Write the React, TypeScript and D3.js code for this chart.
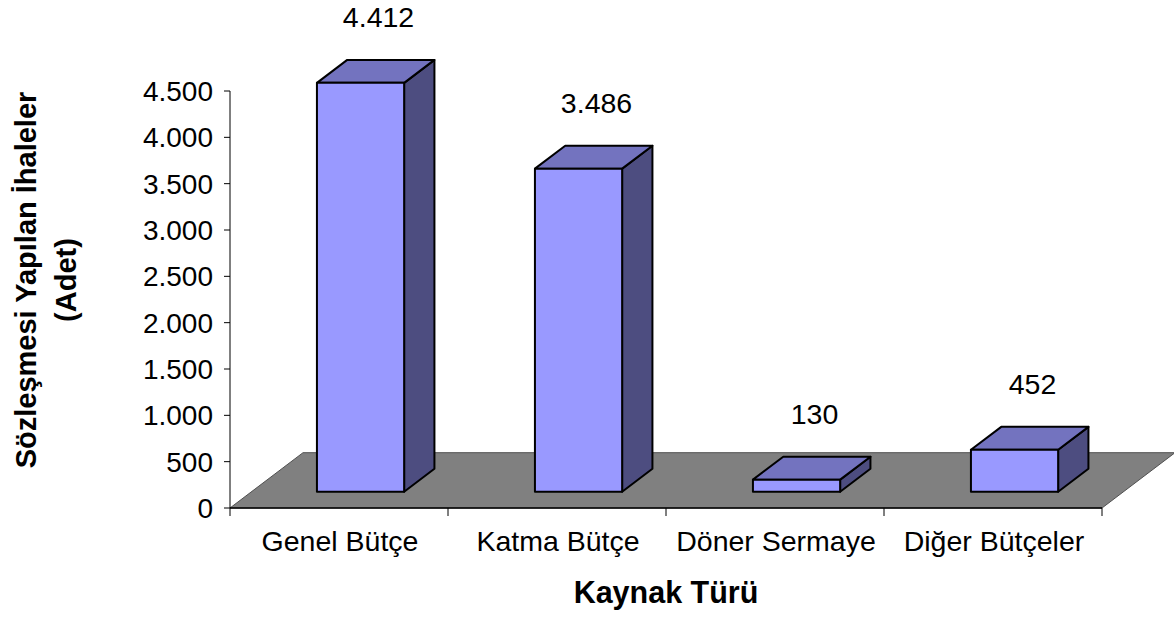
import React from "react";
import * as d3 from "d3";

const categories = ["Genel Bütçe", "Katma Bütçe", "Döner Sermaye", "Diğer Bütçeler"];
const values = [4412, 3486, 130, 452];
const valueLabels = ["4.412", "3.486", "130", "452"];
const yTicks = [0, 500, 1000, 1500, 2000, 2500, 3000, 3500, 4000, 4500];
const yTickLabels = ["0", "500", "1.000", "1.500", "2.000", "2.500", "3.000", "3.500", "4.000", "4.500"];
const yTitleLines = ["Sözleşmesi Yapılan İhaleler", "(Adet)"];
const xTitle = "Kaynak Türü";

const W = 1174;
const H = 621;
const FONT = "'Liberation Sans', Arial, Helvetica, sans-serif";

export default function App() {
  const x0 = 230, x1 = 1102, yBase = 508, yTop = 91;
  const floorD = [73, -55.3];
  const frontDepth = 0.295;
  const barDepth = 0.415;

  const y = d3.scaleLinear().domain([0, 4500]).range([yBase, yTop]);
  const x = d3.scaleBand<string>().domain(categories).range([x0, x1]).paddingInner(0.6).paddingOuter(0.3);
  const step = x.step();

  const fdx = floorD[0] * frontDepth, fdy = floorD[1] * frontDepth;
  const bdx = floorD[0] * barDepth, bdy = floorD[1] * barDepth;

  const floor = [
    [x0, yBase],
    [x1, yBase],
    [x1 + floorD[0], yBase + floorD[1]],
    [x0 + floorD[0], yBase + floorD[1]],
  ];
  const line = d3.line();

  return (
    <svg width={W} height={H} style={{ position: "absolute", left: 0, top: 0, background: "#fff" }} fontFamily={FONT}>
      <path d={line(floor as any) + "Z"} fill="#808080" stroke="#505050" strokeWidth={1} />
      {/* y axis */}
      <line x1={x0} x2={x0} y1={yTop} y2={yBase} stroke="#000" strokeWidth={1} />
      {yTicks.map((t, i) => (
        <g key={t}>
          <line x1={x0 - 6} x2={x0} y1={y(t)} y2={y(t)} stroke="#000" strokeWidth={1} />
          <text x={x0 - 17} y={y(t)} dy="0.36em" textAnchor="end" fontSize={28} fill="#000">
            {yTickLabels[i]}
          </text>
        </g>
      ))}
      {/* x axis */}
      <line x1={x0} x2={x1} y1={yBase} y2={yBase} stroke="#000" strokeWidth={1.5} />
      {d3.range(categories.length + 1).map((i) => (
        <line key={i} x1={x0 + i * step} x2={x0 + i * step} y1={yBase} y2={yBase + 8} stroke="#000" strokeWidth={1} />
      ))}
      {categories.map((c) => (
        <text key={c} x={(x(c) as number) + x.bandwidth() / 2 + 1} y={551} textAnchor="middle" fontSize={28.5} fill="#000">
          {c}
        </text>
      ))}
      {/* bars */}
      {categories.map((c, i) => {
        const bl = (x(c) as number) + fdx;
        const br = bl + x.bandwidth();
        const bb = yBase + fdy;
        const h = yBase - y(values[i]);
        const bt = bb - h;
        const front = [[bl, bb], [br, bb], [br, bt], [bl, bt]];
        const top = [[bl, bt], [br, bt], [br + bdx, bt + bdy], [bl + bdx, bt + bdy]];
        const side = [[br, bb], [br + bdx, bb + bdy], [br + bdx, bt + bdy], [br, bt]];
        return (
          <g key={c} stroke="#000" strokeWidth={2} strokeLinejoin="round">
            <path d={line(side as any) + "Z"} fill="#4D4D80" />
            <path d={line(top as any) + "Z"} fill="#7373BF" />
            <path d={line(front as any) + "Z"} fill="#9999FF" />
          </g>
        );
      })}
      {categories.map((c, i) => {
        const cx = (x(c) as number) + fdx + x.bandwidth() / 2 + 18;
        const bt = yBase + fdy - (yBase - y(values[i]));
        return (
          <text key={c} x={cx} y={bt - 56} textAnchor="middle" fontSize={28.5} fill="#000">
            {valueLabels[i]}
          </text>
        );
      })}
      <text x={(x0 + x1) / 2} y={603} textAnchor="middle" fontSize={30.5} fontWeight="bold" fill="#000">
        {xTitle}
      </text>
      <text transform={`translate(36,280) rotate(-90)`} textAnchor="middle" fontSize={29} fontWeight="bold" fill="#000">
        {yTitleLines[0]}
      </text>
      <text transform={`translate(76,280) rotate(-90)`} textAnchor="middle" fontSize={29} fontWeight="bold" fill="#000">
        {yTitleLines[1]}
      </text>
    </svg>
  );
}
